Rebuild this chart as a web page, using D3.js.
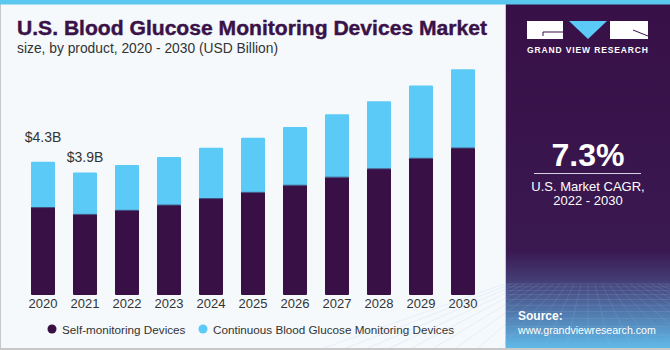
<!DOCTYPE html>
<html>
<head>
<meta charset="utf-8">
<script src="https://cdn.jsdelivr.net/npm/d3@7"></script>
<style>
  body { margin: 0; padding: 0; background: #fff; }
  svg { display: block; font-family: "Liberation Sans", Arial, sans-serif; }
</style>
</head>
<body>
<svg id="drawing_region"></svg>
<script>
const years = ["2020", "2021", "2022", "2023", "2024", "2025", "2026", "2027", "2028", "2029", "2030"];
const selfMonitoring = [2.82, 2.60, 2.73, 2.90, 3.11, 3.31, 3.54, 3.80, 4.07, 4.41, 4.74];
const continuous = [1.48, 1.35, 1.46, 1.55, 1.64, 1.76, 1.88, 2.03, 2.18, 2.35, 2.54];
const seriesNames = ["Self-monitoring Devices", "Continuous Blood Glucose Monitoring Devices"];
const valueLabels = [
    { year: "2020", value: 4.3, text: "$4.3B", dy: -20 },
    { year: "2021", value: 3.9, text: "$3.9B", dy: -12 }
];

const W = 670, H = 350;
const colors = ["#381046", "#5bcaf7"];

const svg = d3.select('#drawing_region')
    .attr('width', W)
    .attr('height', H);

// background + frame
svg.append('rect').attr('width', W).attr('height', H).attr('fill', '#f5f9fc');
svg.append('rect').attr('x', 0).attr('y', 0).attr('width', 1).attr('height', H).attr('fill', '#c8c8c8');
svg.append('rect').attr('x', 0).attr('y', H - 2).attr('width', W).attr('height', 2).attr('fill', '#c8c8c8');
svg.append('rect').attr('x', 505).attr('y', 0).attr('width', 1).attr('height', H).attr('fill', '#c8c8c8');

// title
svg.append('text')
    .attr('x', 17).attr('y', 35)
    .attr('font-size', 20).attr('font-weight', 'bold')
    .attr('fill', '#3a1248').attr('stroke', '#3a1248').attr('stroke-width', 0.4)
    .attr('textLength', 470).attr('lengthAdjust', 'spacingAndGlyphs')
    .text('U.S. Blood Glucose Monitoring Devices Market');
svg.append('text')
    .attr('x', 17).attr('y', 53)
    .attr('font-size', 14).attr('fill', '#333')
    .attr('textLength', 261).attr('lengthAdjust', 'spacingAndGlyphs')
    .text('size, by product, 2020 - 2030 (USD Billion)');

// chart
const x = d3.scaleBand()
    .domain(years)
    .range([22, 484])
    .paddingInner(18 / 42)
    .paddingOuter(9 / 42);

const y = d3.scaleLinear()
    .domain([0, 1])
    .range([295, 264]);

const table = years.map((yr, i) => ({ year: yr, self: selfMonitoring[i], cgm: continuous[i] }));
const stacked = d3.stack().keys(["self", "cgm"])(table);

const chart = svg.append('g');

chart.selectAll('g.series')
    .data(stacked)
    .join('g')
    .attr('class', 'series')
    .attr('fill', (d, i) => colors[i])
    .selectAll('rect')
    .data(d => d)
    .join('rect')
    .attr('x', d => x(d.data.year))
    .attr('width', x.bandwidth())
    .attr('y', d => y(d[1]))
    .attr('height', d => y(d[0]) - y(d[1]))
    .attr('rx', 1);

// thin seam between segments
chart.selectAll('line.seam')
    .data(table)
    .join('line')
    .attr('class', 'seam')
    .attr('x1', d => x(d.year))
    .attr('x2', d => x(d.year) + x.bandwidth())
    .attr('y1', d => y(d.self))
    .attr('y2', d => y(d.self))
    .attr('stroke', '#3f4e7a')
    .attr('stroke-width', 1);

// x axis
const xAxis = chart.append('g')
    .attr('transform', 'translate(0,295)')
    .call(d3.axisBottom(x).tickSize(0).tickPadding(4));
xAxis.select('.domain').remove();
xAxis.selectAll('text')
    .attr('font-size', 13)
    .attr('fill', '#333')
    .attr('font-family', '"Liberation Sans", Arial, sans-serif');

// value labels
chart.selectAll('text.vlabel')
    .data(valueLabels)
    .join('text')
    .attr('class', 'vlabel')
    .attr('x', d => x(d.year) + x.bandwidth() / 2)
    .attr('y', d => y(d.value) + d.dy)
    .attr('text-anchor', 'middle')
    .attr('font-size', 14)
    .attr('fill', '#333')
    .text(d => d.text);

// legend
const legendX = [52, 203];
const legend = svg.append('g').selectAll('g')
    .data(seriesNames)
    .join('g')
    .attr('transform', (d, i) => `translate(${legendX[i]},329)`);
legend.append('circle').attr('r', 4.5).attr('fill', (d, i) => colors[i]);
legend.append('text')
    .attr('x', 10).attr('y', 4.5)
    .attr('font-size', 11.7).attr('fill', '#333')
    .text(d => d);

// right panel
const panel = svg.append('g').attr('transform', 'translate(506,0)');
const defs = svg.append('defs');
const grad = defs.append('linearGradient').attr('id', 'pgrad')
    .attr('x1', 0).attr('y1', 0).attr('x2', 0).attr('y2', 1);
grad.append('stop').attr('offset', '0%').attr('stop-color', '#371047');
grad.append('stop').attr('offset', '72%').attr('stop-color', '#3a1850');
grad.append('stop').attr('offset', '80%').attr('stop-color', '#443a72');
grad.append('stop').attr('offset', '100%').attr('stop-color', '#5fb9e8');
panel.append('rect').attr('width', W - 506).attr('height', H - 2).attr('fill', 'url(#pgrad)');

// grid texture at bottom of panel
const grid = panel.append('g').attr('stroke', '#9ab8e0').attr('stroke-opacity', 0.25).attr('stroke-width', 0.7);
d3.range(0, 14).forEach(i => {
    const gy = 284 + i * i * 0.35 + i * 2.5;
    if (gy < 348) grid.append('line').attr('x1', 0).attr('x2', 164).attr('y1', gy).attr('y2', gy);
});
d3.range(-12, 13).forEach(i => {
    grid.append('line').attr('x1', 82 + i * 7).attr('y1', 284).attr('x2', 82 + i * 22).attr('y2', 348);
});

// logo
const logo = panel.append('g').attr('transform', 'translate(21,21)');
logo.append('rect').attr('x', 0).attr('y', 0).attr('width', 36).attr('height', 18).attr('fill', '#fff');
logo.append('path').attr('d', 'M16,15 L16,11 L36,11').attr('fill', 'none').attr('stroke', '#371047').attr('stroke-width', 1);
logo.append('path').attr('d', 'M42,0 L80,0 L61,18 Z').attr('fill', '#5bcaf7');
logo.append('rect').attr('x', 83).attr('y', 0).attr('width', 38).attr('height', 18).attr('fill', '#fff');
logo.append('path').attr('d', 'M106,9 L121,15').attr('stroke', '#371047').attr('stroke-width', 1);
panel.append('text')
    .attr('x', 21).attr('y', 53)
    .attr('font-size', 8.5).attr('font-weight', 'bold').attr('fill', '#fff')
    .attr('textLength', 121).attr('lengthAdjust', 'spacing')
    .text('GRAND VIEW RESEARCH');

// CAGR
panel.append('text')
    .attr('x', 82).attr('y', 166)
    .attr('text-anchor', 'middle')
    .attr('font-size', 32).attr('font-weight', 'bold').attr('fill', '#fff')
    .text('7.3%');
panel.append('line')
    .attr('x1', 28).attr('x2', 135).attr('y1', 173.5).attr('y2', 173.5)
    .attr('stroke', '#d8d0e0').attr('stroke-width', 1);
panel.append('text')
    .attr('x', 82).attr('y', 191)
    .attr('text-anchor', 'middle')
    .attr('font-size', 13).attr('fill', '#fff')
    .text('U.S. Market CAGR,');
panel.append('text')
    .attr('x', 82).attr('y', 205)
    .attr('text-anchor', 'middle')
    .attr('font-size', 13).attr('fill', '#fff')
    .text('2022 - 2030');

// source
panel.append('text')
    .attr('x', 12).attr('y', 320)
    .attr('font-size', 12).attr('font-weight', 'bold').attr('fill', '#fff')
    .text('Source:');
panel.append('text')
    .attr('x', 12).attr('y', 334)
    .attr('font-size', 10.6).attr('fill', '#fff')
    .text('www.grandviewresearch.com');

// top stripe
svg.append('rect').attr('x', 0).attr('y', 0).attr('width', W).attr('height', 4.5).attr('fill', '#5bc8f0');
</script>
</body>
</html>
